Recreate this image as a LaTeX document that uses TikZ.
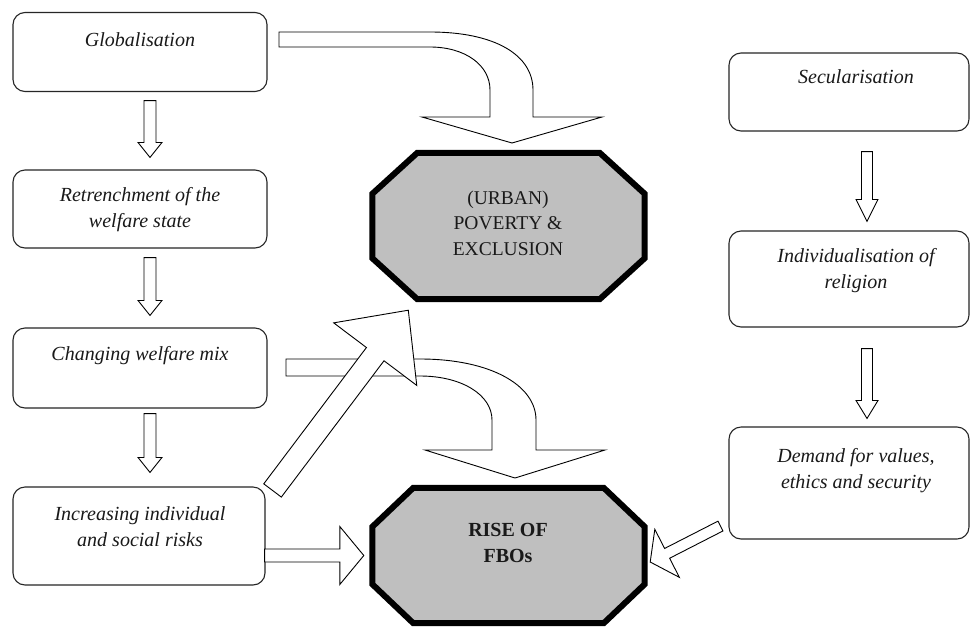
\documentclass[tikz,border=0pt]{standalone}
\usepackage{fontspec}
\setmainfont{Liberation Serif}
\usetikzlibrary{calc}

\tikzset{
  box/.style={draw=black!85, line width=1.1pt, rounded corners=12pt, fill=white, inner sep=0pt},
  txt/.style={font=\fontsize{20}{26}\selectfont\itshape, text=black!90, align=center, inner sep=0pt},
  octframe/.style={draw=none, inner sep=0pt},
  oct/.style={draw=black, line width=6pt, fill=black!25, line join=miter},
  octtxt/.style={font=\fontsize{19.5}{25.5}\selectfont, text=black!90, align=center, inner sep=0pt},
  barrowstyle/.style={draw=black, line width=0.9pt, fill=white, line join=miter},
}

% block arrow: start, end, shaft half width, head half width, head length
\newcommand\blockarr[5]{%
  \coordinate (ba-s) at (#1);
  \coordinate (ba-e) at (#2);
  \coordinate (ba-h) at ($(ba-e)!#5!(ba-s)$);
  \draw[barrowstyle] ($(ba-s)!#3!90:(ba-e)$) -- ($(ba-h)!#3!90:(ba-e)$) -- ($(ba-h)!#4!90:(ba-e)$) -- (ba-e)
    -- ($(ba-h)!#4!-90:(ba-e)$) -- ($(ba-h)!#3!-90:(ba-e)$) -- ($(ba-s)!#3!-90:(ba-e)$) -- cycle;}

% octagon around a frame node: name, horizontal cut, vertical cut
\newcommand\octagon[3]{%
  \draw[oct] ($(#1.north west)+(#2,0)$) -- ($(#1.north east)+(-#2,0)$) -- ($(#1.north east)+(0,#3)$)
    -- ($(#1.south east)+(0,-#3)$) -- ($(#1.south east)+(-#2,0)$) -- ($(#1.south west)+(#2,0)$)
    -- ($(#1.south west)+(0,-#3)$) -- ($(#1.north west)+(0,#3)$) -- cycle;}

\begin{document}
\begin{tikzpicture}[x=1pt, y=-1pt]
\path[fill=white, use as bounding box] (0,0) rectangle (971,627);

% left column boxes
\node[box, minimum width=254pt, minimum height=79pt] (glob) at (140,52) {};
\node[box, minimum width=254pt, minimum height=78pt] (retr) at (140,209) {};
\node[box, minimum width=254pt, minimum height=80pt] (chng) at (140,368) {};
\node[box, minimum width=252pt, minimum height=98pt] (incr) at (139,536) {};
\node[txt] (globt) at (140,40) {Globalisation};
\node[txt] (retrt) at (140,210) {Retrenchment of the\\welfare state};
\node[txt] (chngt) at (140,356) {Changing welfare mix};
\node[txt] (incrt) at (140,527) {Increasing individual\\and social risks};

% right column boxes
\node[box, minimum width=240pt, minimum height=78pt] (secu) at (849,92) {};
\node[box, minimum width=240pt, minimum height=96pt] (indi) at (849,279) {};
\node[box, minimum width=240pt, minimum height=112pt] (dema) at (849,483) {};
\node[txt] (secut) at (856,77) {Secularisation};
\node[txt] (indit) at (856,271) {Individualisation of\\religion};
\node[txt] (demat) at (856,471) {Demand for values,\\ethics and security};

% octagons
\node[octframe, minimum width=272pt, minimum height=146pt] (pov) at (508.5,226) {};
\node[octframe, minimum width=272pt, minimum height=135pt] (fbo) at (508.5,555.5) {};
\octagon{pov}{45}{41}
\octagon{fbo}{41}{39}
\node[octtxt] (povt) at (508,223) {(URBAN)\\POVERTY \&\\EXCLUSION};
\node[octtxt, font=\fontsize{20}{25.5}\selectfont\bfseries] (fbot) at (508,543) {RISE OF\\FBOs};

% vertical arrows, left
\blockarr{$(glob.south)+(10,8.5)$}{$(retr.north)+(10,-12)$}{6pt}{12pt}{15pt}
\blockarr{$(retr.south)+(10,9)$}{$(chng.north)+(10,-12)$}{6pt}{12pt}{15pt}
\blockarr{$(chng.south)+(10,5)$}{$(incr.north)+(11,-14)$}{6pt}{12pt}{15pt}

% vertical arrows, right
\blockarr{$(secu.south)+(18,20)$}{$(indi.north)+(18,-9)$}{5.5pt}{11pt}{22pt}
\blockarr{$(indi.south)+(18,21)$}{$(dema.north)+(18,-8)$}{5.5pt}{11pt}{18pt}

% curved arrow: globalisation -> poverty
\draw[barrowstyle] (279,32) -- (430,32) .. controls (495,32) and (533,55) .. (533,90) -- (533,117)
  -- (602,117) -- (512,143) -- (422,117) -- (490,117) -- (490,90)
  .. controls (490,65) and (465,47) .. (430,47) -- (279,47) -- cycle;

% curved arrow: changing welfare mix -> FBOs
\draw[barrowstyle] (286,359) -- (420,359) .. controls (490,359) and (536,385) .. (536,420) -- (536,450)
  -- (605,450) -- (515,478) -- (425,450) -- (492,450) -- (492,420)
  .. controls (492,395) and (462,376) .. (420,376) -- (286,376) -- cycle;

% diagonal arrow: increasing risks -> poverty
\blockarr{$(incr.north east)+(7,4)$}{$(pov.south west)+(36,11)$}{11pt}{52pt}{55pt}

% horizontal arrow: increasing risks -> FBOs
\blockarr{$(incr.east)+(-1,19.5)$}{$(fbo.west)+(-8.5,0)$}{6.5pt}{29pt}{24pt}

% demand -> FBOs
\blockarr{$(dema.south west)+(-8,-13.5)$}{$(fbo.east)+(5.5,6.5)$}{5.5pt}{27pt}{19pt}
\end{tikzpicture}
\end{document}
